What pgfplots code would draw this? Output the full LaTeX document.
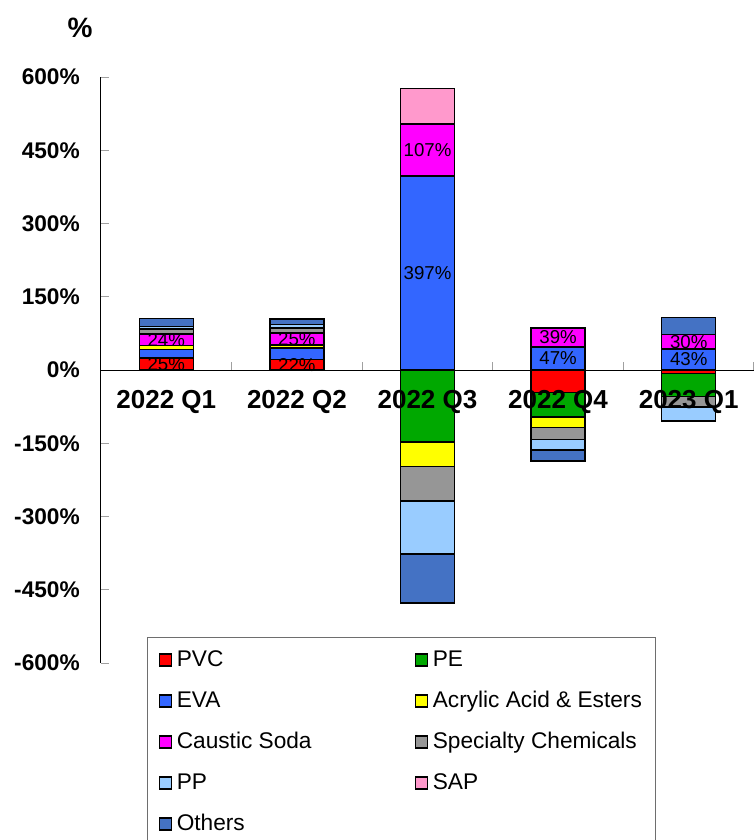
\documentclass[border=0pt]{standalone}
\usepackage{fontspec}
\setmainfont{Liberation Sans}
\usepackage{pgfplots}
\pgfplotsset{compat=1.18}
\definecolor{cPVC}{HTML}{FF0000}
\definecolor{cPE}{HTML}{00A800}
\definecolor{cEVA}{HTML}{3366FF}
\definecolor{cAcr}{HTML}{FFFF00}
\definecolor{cCau}{HTML}{FF00FF}
\definecolor{cSpe}{HTML}{969696}
\definecolor{cPP}{HTML}{99CCFF}
\definecolor{cSAP}{HTML}{FF99CC}
\definecolor{cOth}{HTML}{4472C4}
\definecolor{tickgray}{HTML}{A0A0A0}
\definecolor{leggray}{HTML}{6E6E6E}
\begin{document}
\begin{tikzpicture}
\pgfplotsset{
 base/.style={width=489.75pt,height=439.5pt,scale only axis,xmin=-0.5,xmax=4.5,ymin=-600,ymax=600,at={(0,0)},anchor=south west},
 bars/.style={base, hide axis, ybar stacked, bar width=0.413, clip=false},
 seg/.style={fill=#1, draw=black, line width=1.1pt},
 lbl/.style={nodes near coords, point meta=explicit symbolic, nodes near coords align={center},
   every node near coord/.append style={font=\fontsize{14}{16}\selectfont, color=black, anchor=center, inner sep=0pt}},
}
% positive parts
\begin{axis}[bars]
\addplot[seg=cPVC, lbl] coordinates {(0,25) [25\%] (1,22) [22\%] (2,0) [] (3,0) [] (4,0) []};
\addplot[seg=cPE] coordinates {(0,0) (1,0) (2,0) (3,0) (4,0)};
\addplot[seg=cEVA, lbl] coordinates {(0,17) [] (1,23) [] (2,397) [397\%] (3,47) [47\%] (4,43) [43\%]};
\addplot[seg=cAcr] coordinates {(0,8) (1,6) (2,0) (3,0) (4,0)};
\addplot[seg=cCau, lbl] coordinates {(0,24) [24\%] (1,25) [25\%] (2,107) [107\%] (3,39) [39\%] (4,30) [30\%]};
\addplot[seg=cSpe] coordinates {(0,10) (1,10) (2,0) (3,0) (4,0)};
\addplot[seg=cPP] coordinates {(0,5) (1,7) (2,0) (3,0) (4,0)};
\addplot[seg=cSAP] coordinates {(0,0) (1,0) (2,73) (3,0) (4,0)};
\addplot[seg=cOth] coordinates {(0,17) (1,11) (2,0) (3,0) (4,34)};
\end{axis}
% negative parts
\begin{axis}[bars]
\addplot[seg=cPVC] coordinates {(0,0) (1,0) (2,0) (3,-46) (4,-7)};
\addplot[seg=cPE] coordinates {(0,0) (1,0) (2,-147) (3,-50) (4,-47)};
\addplot[seg=cEVA] coordinates {(0,0) (1,0) (2,0) (3,0) (4,0)};
\addplot[seg=cAcr] coordinates {(0,0) (1,0) (2,-51) (3,-22) (4,0)};
\addplot[seg=cCau] coordinates {(0,0) (1,0) (2,0) (3,0) (4,0)};
\addplot[seg=cSpe] coordinates {(0,0) (1,0) (2,-70) (3,-24) (4,-22)};
\addplot[seg=cPP] coordinates {(0,0) (1,0) (2,-109) (3,-22) (4,-28)};
\addplot[seg=cSAP] coordinates {(0,0) (1,0) (2,0) (3,0) (4,0)};
\addplot[seg=cOth] coordinates {(0,0) (1,0) (2,-100) (3,-22) (4,0)};
\end{axis}
% axis lines, ticks, labels, legend
\begin{axis}[base,
  axis x line=middle, axis y line=left,
  axis line style={-, line width=0.75pt, black},
  xtick={-0.5,0.5,1.5,2.5,3.5,4.5}, xticklabels={},
  extra x ticks={0,1,2,3,4},
  extra x tick labels={2022 Q1,2022 Q2,2022 Q3,2022 Q4,2023 Q1},
  extra x tick style={major tick length=0pt, xticklabel style={font=\fontsize{19.5}{22}\selectfont\bfseries, inner sep=0pt, anchor=north, yshift=-15pt}},
  ytick={-600,-450,-300,-150,0,150,300,450,600},
  yticklabels={-600\%,-450\%,-300\%,-150\%,0\%,150\%,300\%,450\%,600\%},
  yticklabel style={font=\fontsize{17}{20}\selectfont\bfseries, inner sep=0pt, anchor=east, xshift=-15.75pt},
  tick align=inside,
  major tick length=6pt,
  tick style={tickgray, line width=0.75pt},
  clip=false,
  legend columns=2,
  legend cell align=left,
  legend image code/.code={\draw[#1, draw=black, line width=1.1pt] (0.55pt,-4.5pt) rectangle (9.55pt,4.5pt);},
  legend style={at={(0.0704,0.0444)}, anchor=north west, draw=leggray, line width=0.75pt, fill=white,
    font=\fontsize{17}{20}\selectfont, inner xsep=8.5pt, inner ysep=7pt, row sep=10.75pt,
    nodes={inner sep=2pt, text height=12.5pt, text depth=3.5pt},
    /tikz/every odd column/.append style={column sep=1.4pt}},
]
\addlegendimage{fill=cPVC}\addlegendentry{\makebox[176.5pt][l]{PVC}}
\addlegendimage{fill=cPE}\addlegendentry{PE}
\addlegendimage{fill=cEVA}\addlegendentry{\makebox[176.5pt][l]{EVA}}
\addlegendimage{fill=cAcr}\addlegendentry{Acrylic Acid \& Esters}
\addlegendimage{fill=cCau}\addlegendentry{\makebox[176.5pt][l]{Caustic Soda}}
\addlegendimage{fill=cSpe}\addlegendentry{Specialty Chemicals}
\addlegendimage{fill=cPP}\addlegendentry{\makebox[176.5pt][l]{PP}}
\addlegendimage{fill=cSAP}\addlegendentry{SAP}
\addlegendimage{fill=cOth}\addlegendentry{\makebox[176.5pt][l]{Others}}
\node[font=\fontsize{21}{24}\selectfont\bfseries] at (rel axis cs:0,1) [xshift=-15.75pt, yshift=36.75pt] {\%};
\end{axis}
\pgfresetboundingbox
\path[use as bounding box] (-75.75pt,-132.75pt) rectangle (489.75pt,497.25pt);
\end{tikzpicture}
\end{document}
